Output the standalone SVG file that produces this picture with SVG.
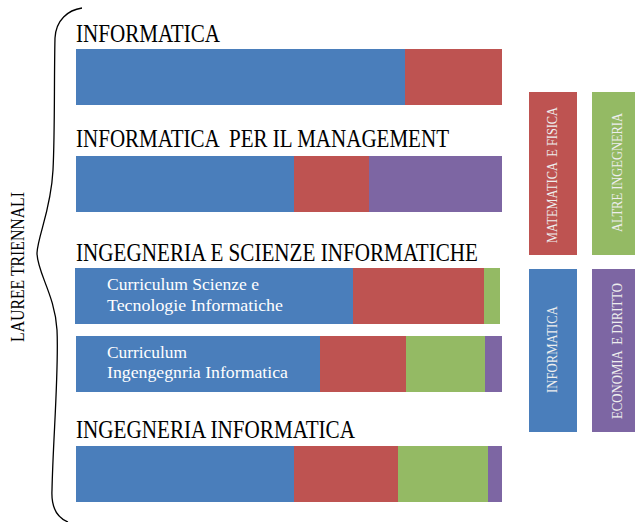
<svg xmlns="http://www.w3.org/2000/svg" width="635" height="522" viewBox="0 0 635 522">
<style>
.t{font-family:"Liberation Serif","Times New Roman",serif;fill:#000;font-size:26px;white-space:pre}
.w{font-family:"Liberation Serif","Times New Roman",serif;fill:#ffffff;font-size:17.5px;white-space:pre}
.l{font-family:"Liberation Serif","Times New Roman",serif;fill:#eeeeee;font-size:15.5px;white-space:pre}
.b{fill:#4A7EBB}.r{fill:#BE5351}.g{fill:#94BA64}.p{fill:#7D66A3}
</style>
<rect width="635" height="522" fill="#fff"/>
<g id="brace">
<path d="M82,8 C68,10 56,20 55,38 C54,80 55,130 53,170 C51,210 38,235 37,253 C37,272 55,295 57,330 C59,370 53,440 52,490 C51,508 58,518 68,522" fill="none" stroke="#000" stroke-width="1.3"/>
<text class="t" style="font-size:18px" transform="translate(24,342) rotate(-90)" textLength="150" lengthAdjust="spacingAndGlyphs">LAUREE TRIENNALI</text>
</g>
<g id="informatica">
<text class="t" x="76" y="42" textLength="144" lengthAdjust="spacingAndGlyphs">INFORMATICA</text>
<rect class="b" x="76" y="49" width="329" height="56"/>
<rect class="r" x="405" y="49" width="97" height="56"/>
</g>
<g id="informatica-management">
<text class="t" x="76" y="147" textLength="373" lengthAdjust="spacingAndGlyphs">INFORMATICA  PER IL MANAGEMENT</text>
<rect class="b" x="76" y="156" width="218" height="56"/>
<rect class="r" x="294" y="156" width="75" height="56"/>
<rect class="p" x="369" y="156" width="133" height="56"/>
</g>
<g id="ingegneria-scienze">
<text class="t" x="76" y="261" textLength="402" lengthAdjust="spacingAndGlyphs">INGEGNERIA E SCIENZE INFORMATICHE</text>
<rect class="b" x="75" y="268" width="278" height="56"/>
<rect class="r" x="353" y="268" width="131" height="56"/>
<rect class="g" x="484" y="268" width="16" height="56"/>
<text class="w" x="107" y="290" textLength="152" lengthAdjust="spacingAndGlyphs">Curriculum Scienze e</text>
<text class="w" x="107" y="311" textLength="176" lengthAdjust="spacingAndGlyphs">Tecnologie Informatiche</text>
<rect class="b" x="76" y="336" width="244" height="56"/>
<rect class="r" x="320" y="336" width="86" height="56"/>
<rect class="g" x="406" y="336" width="79" height="56"/>
<rect class="p" x="485" y="336" width="17" height="56"/>
<text class="w" x="107" y="358" textLength="80" lengthAdjust="spacingAndGlyphs">Curriculum</text>
<text class="w" x="107" y="378" textLength="181" lengthAdjust="spacingAndGlyphs">Ingengegnria Informatica</text>
</g>
<g id="ingegneria-informatica">
<text class="t" x="76" y="438" textLength="279" lengthAdjust="spacingAndGlyphs">INGEGNERIA INFORMATICA</text>
<rect class="b" x="76" y="446" width="218" height="56"/>
<rect class="r" x="294" y="446" width="104" height="56"/>
<rect class="g" x="398" y="446" width="90" height="56"/>
<rect class="p" x="488" y="446" width="14" height="56"/>
</g>
<g id="legend">
<g id="leg-matematica">
<rect class="r" x="529" y="92" width="48" height="163"/>
<text class="l" transform="translate(557,243) rotate(-90)" textLength="136" lengthAdjust="spacingAndGlyphs">MATEMATICA  E FISICA</text>
</g>
<g id="leg-altre">
<rect class="g" x="592" y="92" width="43" height="163"/>
<text class="l" transform="translate(622,232) rotate(-90)" textLength="119" lengthAdjust="spacingAndGlyphs">ALTRE INGEGNERIA</text>
</g>
<g id="leg-informatica">
<rect class="b" x="529" y="269" width="48" height="163"/>
<text class="l" transform="translate(557,393) rotate(-90)" textLength="87" lengthAdjust="spacingAndGlyphs">INFORMATICA</text>
</g>
<g id="leg-economia">
<rect class="p" x="592" y="269" width="43" height="163"/>
<text class="l" transform="translate(622,419) rotate(-90)" textLength="136" lengthAdjust="spacingAndGlyphs">ECONOMIA  E DIRITTO</text>
</g>
</g>
</svg>
